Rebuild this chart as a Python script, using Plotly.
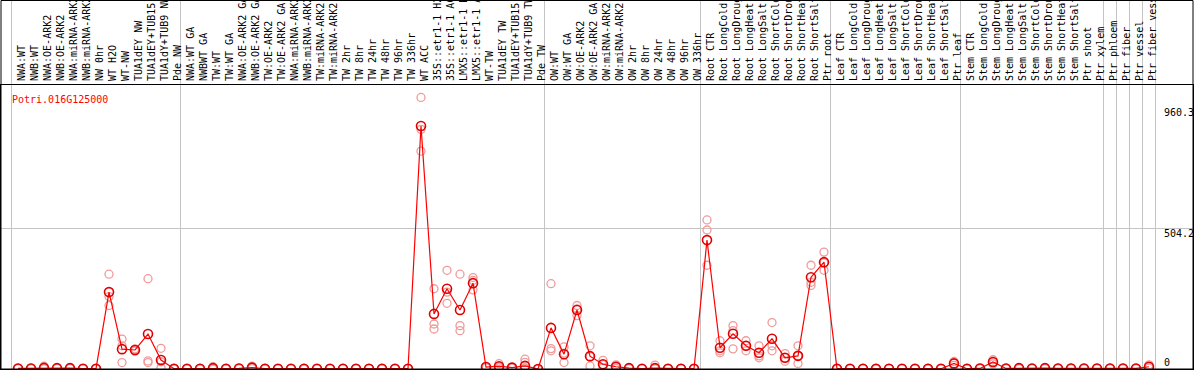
import plotly.graph_objects as go

gene = "Potri.016G125000"

categories = [
    "NWA:WT", "NWB:WT", "NWA:OE-ARK2", "NWB:OE-ARK2", "NWA:miRNA-ARK2", "NWB:miRNA-ARK2",
    "NW 0hr", "WT H2O", "WT-NW", "TUA1dEY NW", "TUA1dEY+TUB15", "TUA1dY+TUB9 NW", "Pde NW",
    "NWA:WT GA", "NWBWT GA", "TW:WT", "TW:WT GA", "NWA:OE-ARK2 GA", "NWB:OE-ARK2 GA",
    "TW:OE-ARK2", "TW:OE-ARK2 GA", "NWA:miRNA-ARK2", "NWB:miRNA-ARK2", "TW:miRNA-ARK2",
    "TW:miRNA-ARK2", "TW 2hr", "TW 8hr", "TW 24hr", "TW 48hr", "TW 96hr", "TW 336hr",
    "WT ACC", "35S::etr1-1 H2O", "35S::etr1-1 ACC", "LMX5::etr1-1 H2O", "LMX5::etr1-1 ACC",
    "WT-TW", "TUA1dEY TW", "TUA1dEY+TUB15", "TUA1dY+TUB9 TW", "Pde TW",
    "OW:WT", "OW:WT GA", "OW:OE-ARK2", "OW:OE-ARK2 GA", "OW:miRNA-ARK2", "OW:miRNA-ARK2",
    "OW 2hr", "OW 8hr", "OW 24hr", "OW 48hr", "OW 96hr", "OW 336hr",
    "Root CTR", "Root LongCold", "Root LongDrought", "Root LongHeat", "Root LongSalt",
    "Root ShortCold", "Root ShortDrought", "Root ShortHeat", "Root ShortSalt", "Ptr root",
    "Leaf CTR", "Leaf LongCold", "Leaf LongDrought", "Leaf LongHeat", "Leaf LongSalt",
    "Leaf ShortCold", "Leaf ShortDrought", "Leaf ShortHeat", "Leaf ShortSalt", "Ptr leaf",
    "Stem CTR", "Stem LongCold", "Stem LongDrought", "Stem LongHeat", "Stem LongSalt",
    "Stem ShortCold", "Stem ShortDrought", "Stem ShortHeat", "Stem ShortSalt", "Ptr shoot",
    "Ptr xylem", "Ptr phloem", "Ptr fiber", "Ptr vessel", "Ptr fiber vessel",
]

mean_vals = [
    2, 2, 4, 3, 3, 1, 1, 275, 71, 68, 125, 32, 1,
    1, 1, 3, 1, 2, 5, 1, 1, 1, 1, 1, 1, 1, 1, 1, 1, 1, 1,
    869, 197, 287, 211, 307, 7, 10, 5, 11, 0,
    147, 53, 211, 46, 17, 8, 3, 1, 3, 1, 1, 1,
    461, 76, 126, 83, 58, 108, 40, 47, 328, 382,
    1, 1, 1, 1, 1, 1, 1, 1, 1, 20,
    1, 2, 25, 2, 3, 2, 3, 2, 2, 2, 2,
    2, 2, 2, 8,
]

rep1 = [
    3, 3, 10, 4, 5, 1, 1, 339, 107, 72, 323, 74, 2,
    1, 2, 8, 2, 3, 10, 2, 1, 1, 2, 1, 1, 1, 1, 1, 2, 1, 1,
    971, 287, 353, 339, 327, 9, 19, 7, 35, 0,
    305, 79, 227, 83, 31, 15, 5, 1, 14, 1, 1, 1,
    533, 101, 155, 101, 83, 166, 55, 83, 371, 418,
    2, 1, 1, 2, 1, 1, 1, 2, 1, 27,
    2, 3, 33, 3, 5, 3, 5, 3, 3, 3, 3,
    3, 3, 3, 15,
]

rep2 = [
    2, 2, 1, 3, 2, 1, 1, 259, 83, 68, 29, 26, 1,
    1, 1, 1, 1, 2, 4, 1, 1, 1, 1, 1, 1, 1, 1, 1, 1, 1, 1,
    857, 161, 275, 155, 317, 7, 8, 5, 24, 0,
    73, 57, 215, 44, 16, 8, 3, 1, 1, 1, 1, 1,
    497, 65, 137, 83, 47, 83, 40, 47, 299, 353,
    1, 1, 1, 1, 1, 1, 1, 1, 1, 20,
    1, 2, 25, 2, 3, 2, 3, 2, 2, 2, 2,
    2, 2, 2, 7,
]

rep3 = [
    1, 1, 1, 2, 2, 1, 1, 227, 23, 64, 23, 5, 0,
    0, 0, 0, 0, 1, 1, 0, 1, 1, 0, 1, 1, 1, 1, 1, 0, 1, 1,
    779, 143, 235, 137, 283, 5, 4, 3, 3, 0,
    65, 23, 191, 11, 4, 2, 1, 1, 1, 1, 1, 1,
    371, 58, 72, 65, 40, 65, 28, 20, 310, 380,
    0, 1, 1, 0, 1, 1, 1, 0, 1, 13,
    0, 1, 18, 1, 1, 1, 1, 1, 1, 1, 1,
    1, 1, 1, 3,
]

group_bounds = [-0.5, 12.5, 40.5, 52.5, 62.5, 72.5, 83.5, 84.5, 85.5, 86.5, 87.5]
y_labels = [960.3, 504.2, 0]
y_label_text = ["960.3", "504.2", "0"]

W, H = 1194, 370
ML, MR, MT, MB = 1, 1, 85, 1
plot_h = H - MT - MB
top_paper = 1 + (MT - 0.5) / plot_h
mono = "DejaVu Sans Mono"

x = list(range(len(categories)))

fig = go.Figure()
for reps in (rep1, rep2, rep3):
    fig.add_trace(go.Scatter(
        x=x, y=reps, mode="markers", hoverinfo="skip", showlegend=False, cliponaxis=False,
        marker=dict(symbol="circle-open", size=8, color="#f09a9a", line=dict(width=1.3)),
    ))
fig.add_trace(go.Scatter(
    x=x, y=mean_vals, mode="lines+markers", showlegend=False, cliponaxis=False,
    line=dict(color="#ff0000", width=1.2),
    marker=dict(symbol="circle-open", size=9, color="#e00000", line=dict(width=1.6)),
))

shapes = []
for b in group_bounds:
    shapes.append(dict(type="line", xref="x", yref="paper", x0=b, x1=b, y0=0, y1=top_paper,
                       line=dict(color="#c4c4c4", width=1), layer="below"))
shapes.append(dict(type="rect", xref="paper", yref="paper", x0=0, x1=1, y0=0, y1=top_paper,
                   line=dict(color="black", width=1)))

annotations = [dict(
    text=gene, xref="paper", yref="paper", x=9 / (W - ML - MR), y=1 - 7 / plot_h,
    xanchor="left", yanchor="top", showarrow=False,
    font=dict(family=mono, size=10, color="#ff0000"),
)]
shifts = [-12, -5, 7]
for v, t, s in zip(y_labels, y_label_text, shifts):
    annotations.append(dict(
        text=t, xref="paper", yref="y", x=(1162 - ML) / (W - ML - MR), y=v, yshift=s,
        xanchor="left", yanchor="middle", showarrow=False,
        font=dict(family=mono, size=10, color="black"),
    ))

x0 = (ML - 18) / 13
x1 = (W - MR - 18) / 13
ymax = 504.2 * plot_h / (369 - 228)

fig.update_layout(
    width=W, height=H,
    margin=dict(l=ML, r=MR, t=MT, b=MB, pad=0, autoexpand=False),
    paper_bgcolor="white", plot_bgcolor="white",
    shapes=shapes, annotations=annotations,
    xaxis=dict(
        range=[x0, x1], side="top", tickmode="array", tickvals=x, ticktext=categories,
        tickangle=-90, tickfont=dict(family=mono, size=10, color="black"),
        ticklabelshift=4, ticklabelstandoff=1,
        showgrid=False, zeroline=False, ticks="", showline=True, mirror=True,
        linecolor="black", linewidth=1, automargin=False,
    ),
    yaxis=dict(
        range=[0, ymax], tickmode="array", tickvals=[504.2], showticklabels=False,
        showgrid=True, gridcolor="#c4c4c4", gridwidth=1, zeroline=False, ticks="",
        showline=True, mirror=True, linecolor="black", linewidth=1, automargin=False,
    ),
)

fig.write_html(
    "out.html",
    config={"displayModeBar": False},
    post_script="document.body.style.margin='0';document.body.style.overflow='hidden';",
)
